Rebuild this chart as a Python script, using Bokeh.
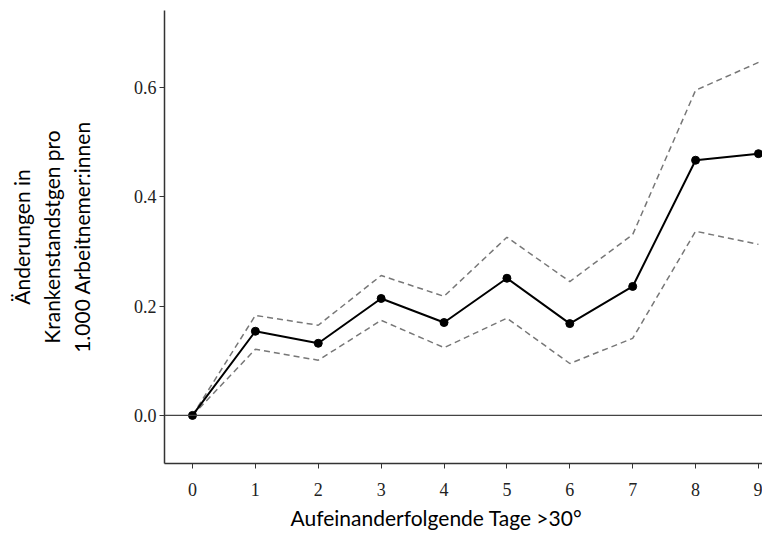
from bokeh.plotting import figure
from bokeh.models import Span, FixedTicker, Range1d, NumeralTickFormatter, Title
from bokeh.embed import file_html
from bokeh.resources import INLINE

days = [0, 1, 2, 3, 4, 5, 6, 7, 8, 9]
estimate = [0.0, 0.154, 0.132, 0.214, 0.170, 0.251, 0.168, 0.236, 0.467, 0.479]
upper = [0.0, 0.183, 0.165, 0.256, 0.218, 0.326, 0.245, 0.331, 0.595, 0.646]
lower = [0.0, 0.121, 0.101, 0.174, 0.124, 0.178, 0.095, 0.141, 0.337, 0.313]
y_ticks = [0.0, 0.2, 0.4, 0.6]

p = figure(width=762, height=535, output_backend="svg", toolbar_location=None,
           x_range=Range1d(-0.445, 9.064), y_range=Range1d(-0.088, 0.741),
           min_border_left=164, min_border_right=0, min_border_top=10, min_border_bottom=72)
p.outline_line_color = None
p.xgrid.visible = False
p.ygrid.visible = False
p.background_fill_color = "white"
p.border_fill_color = "white"

p.add_layout(Span(location=0, dimension="width", line_color="#444444", line_width=1.2))

p.line(days, upper, line_color="#777777", line_width=1.5, line_dash="6 4")
p.line(days, lower, line_color="#777777", line_width=1.5, line_dash="6 4")
p.line(days, estimate, line_color="black", line_width=2)
p.scatter(days, estimate, size=8, fill_color="black", line_color="black")

for ax in (p.xaxis[0], p.yaxis[0]):
    ax.axis_line_color = "#333333"
    ax.axis_line_width = 1.5
    ax.major_tick_line_color = "#333333"
    ax.major_tick_out = 5
    ax.major_tick_in = 0
    ax.minor_tick_line_color = None
    ax.major_label_text_font = "Liberation Serif, serif"
    ax.major_label_text_font_size = "18px"
    ax.major_label_text_color = "#222222"
    ax.axis_label_text_font = "Lato"
    ax.axis_label_text_font_style = "normal"
    ax.axis_label_text_font_size = "21px"
    ax.axis_label_text_color = "black"

p.xaxis.ticker = FixedTicker(ticks=days)
p.yaxis.ticker = FixedTicker(ticks=y_ticks)
p.yaxis.formatter = NumeralTickFormatter(format="0.0")
p.yaxis.axis_label = "Änderungen in\nKrankenstandstgen pro\n1.000 Arbeitnemer:innen"
p.yaxis.axis_label_standoff = 37
p.xaxis.major_label_standoff = 14
p.yaxis.major_label_standoff = 3

p.add_layout(Title(text="Aufeinanderfolgende Tage >30°", align="left", offset=126,
                   text_font="Lato", text_font_size="21px", text_font_style="normal",
                   text_color="black", standoff=9), "below")

open("out.html", "w").write(file_html(p, INLINE))
